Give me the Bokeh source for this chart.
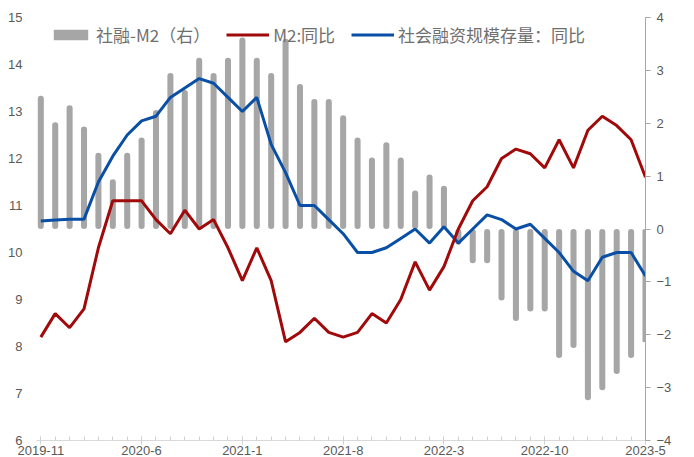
import pandas as pd
from bokeh.plotting import figure
from bokeh.models import (Range1d, LinearAxis, FixedTicker, Legend, LegendItem,
                          ColumnDataSource)
from bokeh.embed import file_html
from bokeh.resources import INLINE

# ---------------- data ----------------
months = [f"{p.year}-{p.month}" for p in pd.period_range("2019-11", "2023-05", freq="M")]

spread = [2.52, 2.02, 2.34, 1.94, 1.44, 0.94, 1.44, 1.73, 2.25, 2.95,
          2.63, 3.24, 2.95, 3.24, 3.62, 3.24, 2.95, 3.60, 2.74, 2.46,
          2.46, 2.15, 1.73, 1.35, 1.64, 1.35, 0.73, 1.03, 0.82, -0.30,
          -0.65, -0.65, -1.35, -1.74, -1.56, -1.56, -2.44, -2.25, -3.24, -3.05,
          -2.74, -2.44, -2.14]

m2_yoy = [8.2, 8.7, 8.4, 8.8, 10.1, 11.1, 11.1, 11.1, 10.7, 10.4,
          10.9, 10.5, 10.7, 10.1, 9.4, 10.1, 9.4, 8.1, 8.3, 8.6,
          8.3, 8.2, 8.3, 8.7, 8.5, 9.0, 9.8, 9.2, 9.7, 10.5,
          11.1, 11.4, 12.0, 12.2, 12.1, 11.8, 12.4, 11.8, 12.6, 12.9,
          12.7, 12.4, 11.6]

tsf_yoy = [10.67, 10.69, 10.71, 10.71, 11.5, 12.05, 12.5, 12.8, 12.9, 13.3,
           13.5, 13.7, 13.6, 13.3, 13.0, 13.3, 12.3, 11.7, 11.0, 11.0,
           10.7, 10.4, 10.0, 10.0, 10.1, 10.3, 10.5, 10.2, 10.55, 10.2,
           10.5, 10.8, 10.7, 10.5, 10.6, 10.3, 10.0, 9.6, 9.4, 9.9,
           10.0, 10.0, 9.5]

x_tick_labels = ["2019-11", "2020-6", "2021-1", "2021-8", "2022-3", "2022-10", "2023-5"]
left_ticks = [6, 7, 8, 9, 10, 11, 12, 13, 14, 15]
right_ticks = [-4, -3, -2, -1, 0, 1, 2, 3, 4]
right_tick_labels = ["\u22124", "\u22123", "\u22122", "\u22121", "0", "1", "2", "3", "4"]

series_names = ["社融-M2（右）", "M2:同比", "社会融资规模存量：同比"]

# ---------------- figure ----------------
idx = list(range(len(months)))
src = ColumnDataSource(dict(x=idx, spread=spread, m2=m2_yoy, tsf=tsf_yoy))

AX_FONT = "Liberation Sans"
CJK = "Noto Sans CJK SC"
GRAY_TXT = "#595959"

p = figure(width=694, height=457, output_backend="svg", toolbar_location=None,
           x_range=Range1d(-0.3, len(months) - 1), y_range=Range1d(6, 15),
           min_border_left=36, min_border_right=49, min_border_top=17,
           min_border_bottom=0)
p.outline_line_color = None
p.grid.visible = False
p.background_fill_color = "white"
p.border_fill_color = "white"
p.extra_y_ranges = {"r": Range1d(-4, 4)}

bars = p.vbar(x="x", top="spread", bottom=0, width=0.42, y_range_name="r",
              source=src, fill_color="#A6A6A6", line_color=None, border_radius=3)
blue = p.line(x="x", y="tsf", source=src, line_color="#0A4FA6", line_width=3)
red = p.line(x="x", y="m2", source=src, line_color="#A00A0A", line_width=3)

# x axis
xa = p.xaxis[0]
tick_pos = [months.index(l) for l in x_tick_labels]
xa.ticker = FixedTicker(ticks=tick_pos, minor_ticks=idx)
xa.major_label_overrides = {i: l for i, l in zip(tick_pos, x_tick_labels)}
xa.axis_line_color = "#D9D9D9"
xa.major_tick_line_color = "#D0D0D0"
xa.minor_tick_line_color = "#D0D0D0"
xa.major_tick_in = 4
xa.major_tick_out = 4
xa.minor_tick_in = 4
xa.minor_tick_out = 0
xa.major_label_standoff = 1
xa.major_label_text_font = AX_FONT
xa.major_label_text_font_size = "13px"
xa.major_label_text_color = GRAY_TXT

# left axis
ya = p.yaxis[0]
ya.ticker = FixedTicker(ticks=left_ticks)
ya.axis_line_color = None
ya.major_tick_line_color = None
ya.minor_tick_line_color = None
ya.major_label_standoff = 8
ya.major_label_text_font = AX_FONT
ya.major_label_text_font_size = "13px"
ya.major_label_text_color = GRAY_TXT

# right axis
ra = LinearAxis(y_range_name="r", ticker=FixedTicker(ticks=right_ticks))
ra.major_label_overrides = {t: l for t, l in zip(right_ticks, right_tick_labels)}
ra.axis_line_color = "#A6A6A6"
ra.major_tick_line_color = "#A6A6A6"
ra.major_tick_in = 0
ra.major_tick_out = 5
ra.minor_tick_line_color = None
ra.major_label_standoff = 6
ra.major_label_text_font = AX_FONT
ra.major_label_text_font_size = "13px"
ra.major_label_text_color = GRAY_TXT
p.add_layout(ra, "right")

# legend
legend = Legend(items=[LegendItem(label=series_names[0], renderers=[bars]),
                       LegendItem(label=series_names[1], renderers=[red]),
                       LegendItem(label=series_names[2], renderers=[blue])],
                orientation="horizontal", location=(13, 393),
                glyph_width=43, glyph_height=13, label_height=13,
                label_standoff=4, spacing=16, padding=0, margin=0,
                border_line_alpha=0, background_fill_alpha=0,
                label_text_font=CJK, label_text_font_size="17px",
                label_text_color="#6F6F6F")
legend.level = "underlay"
p.add_layout(legend)

open("out.html", "w").write(file_html(p, INLINE))
